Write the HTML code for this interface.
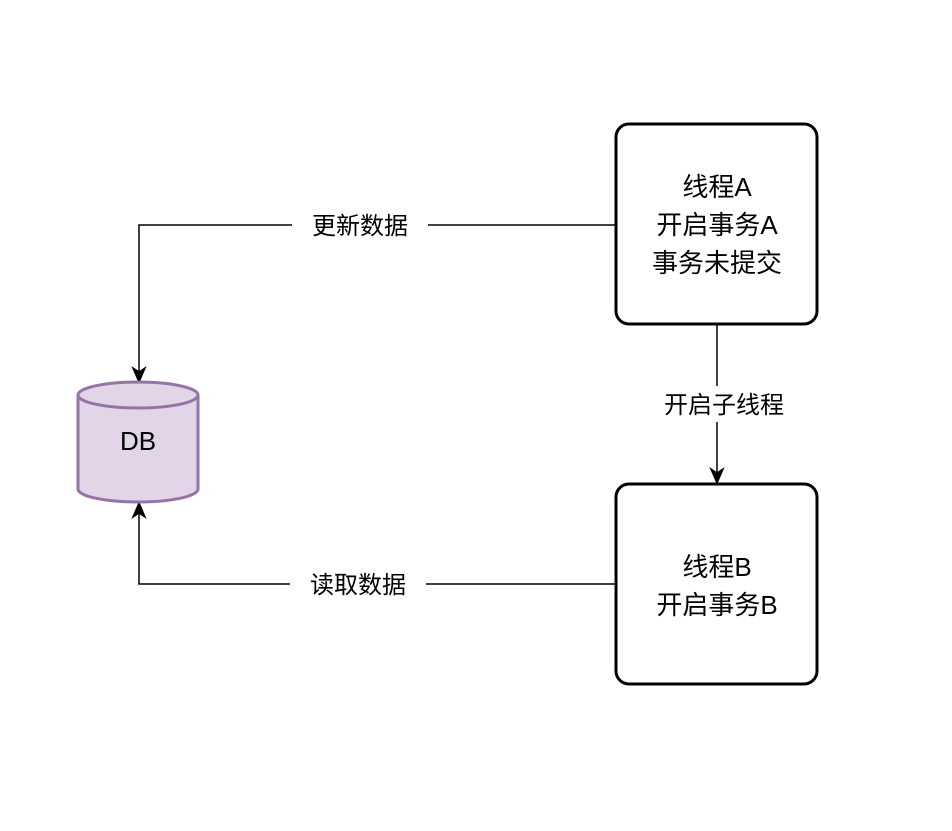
<!DOCTYPE html>
<html><head><meta charset="utf-8"><style>
html,body{margin:0;padding:0;background:#fff;}
svg text{font-family:"Liberation Sans","Noto Sans CJK SC",sans-serif;fill:#000;}
</style></head><body>
<svg width="952" height="826" viewBox="0 0 952 826" xmlns="http://www.w3.org/2000/svg">
<rect width="952" height="826" fill="#fff"/>
<!-- connectors -->
<path d="M616 225 H139 V372" fill="none" stroke="#000" stroke-width="1.5"/>
<path d="M139 382 L133 368 L139 372 L145 368 Z" fill="#000" stroke="#000" stroke-width="1.5"/>
<path d="M616 584 H139 V512" fill="none" stroke="#000" stroke-width="1.5"/>
<path d="M139 503 L133 517 L139 513 L145 517 Z" fill="#000" stroke="#000" stroke-width="1.5"/>
<path d="M717 324 V474" fill="none" stroke="#000" stroke-width="1.5"/>
<path d="M717 483 L711 469 L717 473 L723 469 Z" fill="#000" stroke="#000" stroke-width="1.5"/>
<!-- labels -->
<rect x="292" y="208" width="136" height="34" fill="#fff"/>
<text x="360" y="234" font-size="24" text-anchor="middle">更新数据</text>
<rect x="290" y="567" width="136" height="34" fill="#fff"/>
<text x="358" y="593" font-size="24" text-anchor="middle">读取数据</text>
<rect x="640" y="386" width="170" height="36" fill="#fff"/>
<text x="724" y="413" font-size="24" text-anchor="middle">开启子线程</text>
<!-- boxes -->
<rect x="616" y="124" width="201" height="200" rx="13" fill="#fff" stroke="#000" stroke-width="3"/>
<text x="717" y="196" font-size="26" text-anchor="middle">线程A</text>
<text x="717" y="234" font-size="26" text-anchor="middle">开启事务A</text>
<text x="717" y="272" font-size="26" text-anchor="middle">事务未提交</text>
<rect x="616" y="484" width="201" height="200" rx="13" fill="#fff" stroke="#000" stroke-width="3"/>
<text x="717" y="576" font-size="26" text-anchor="middle">线程B</text>
<text x="717" y="614" font-size="26" text-anchor="middle">开启事务B</text>
<!-- cylinder -->
<path d="M78 395 A60 13 0 0 1 198 395 V489 A60 13 0 0 1 78 489 Z" fill="#e1d5e7" stroke="#9673a6" stroke-width="3"/>
<path d="M78 395 A60 13 0 0 0 198 395" fill="none" stroke="#9673a6" stroke-width="3"/>
<text x="138" y="450" font-size="26" text-anchor="middle">DB</text>
</svg>
</body></html>
